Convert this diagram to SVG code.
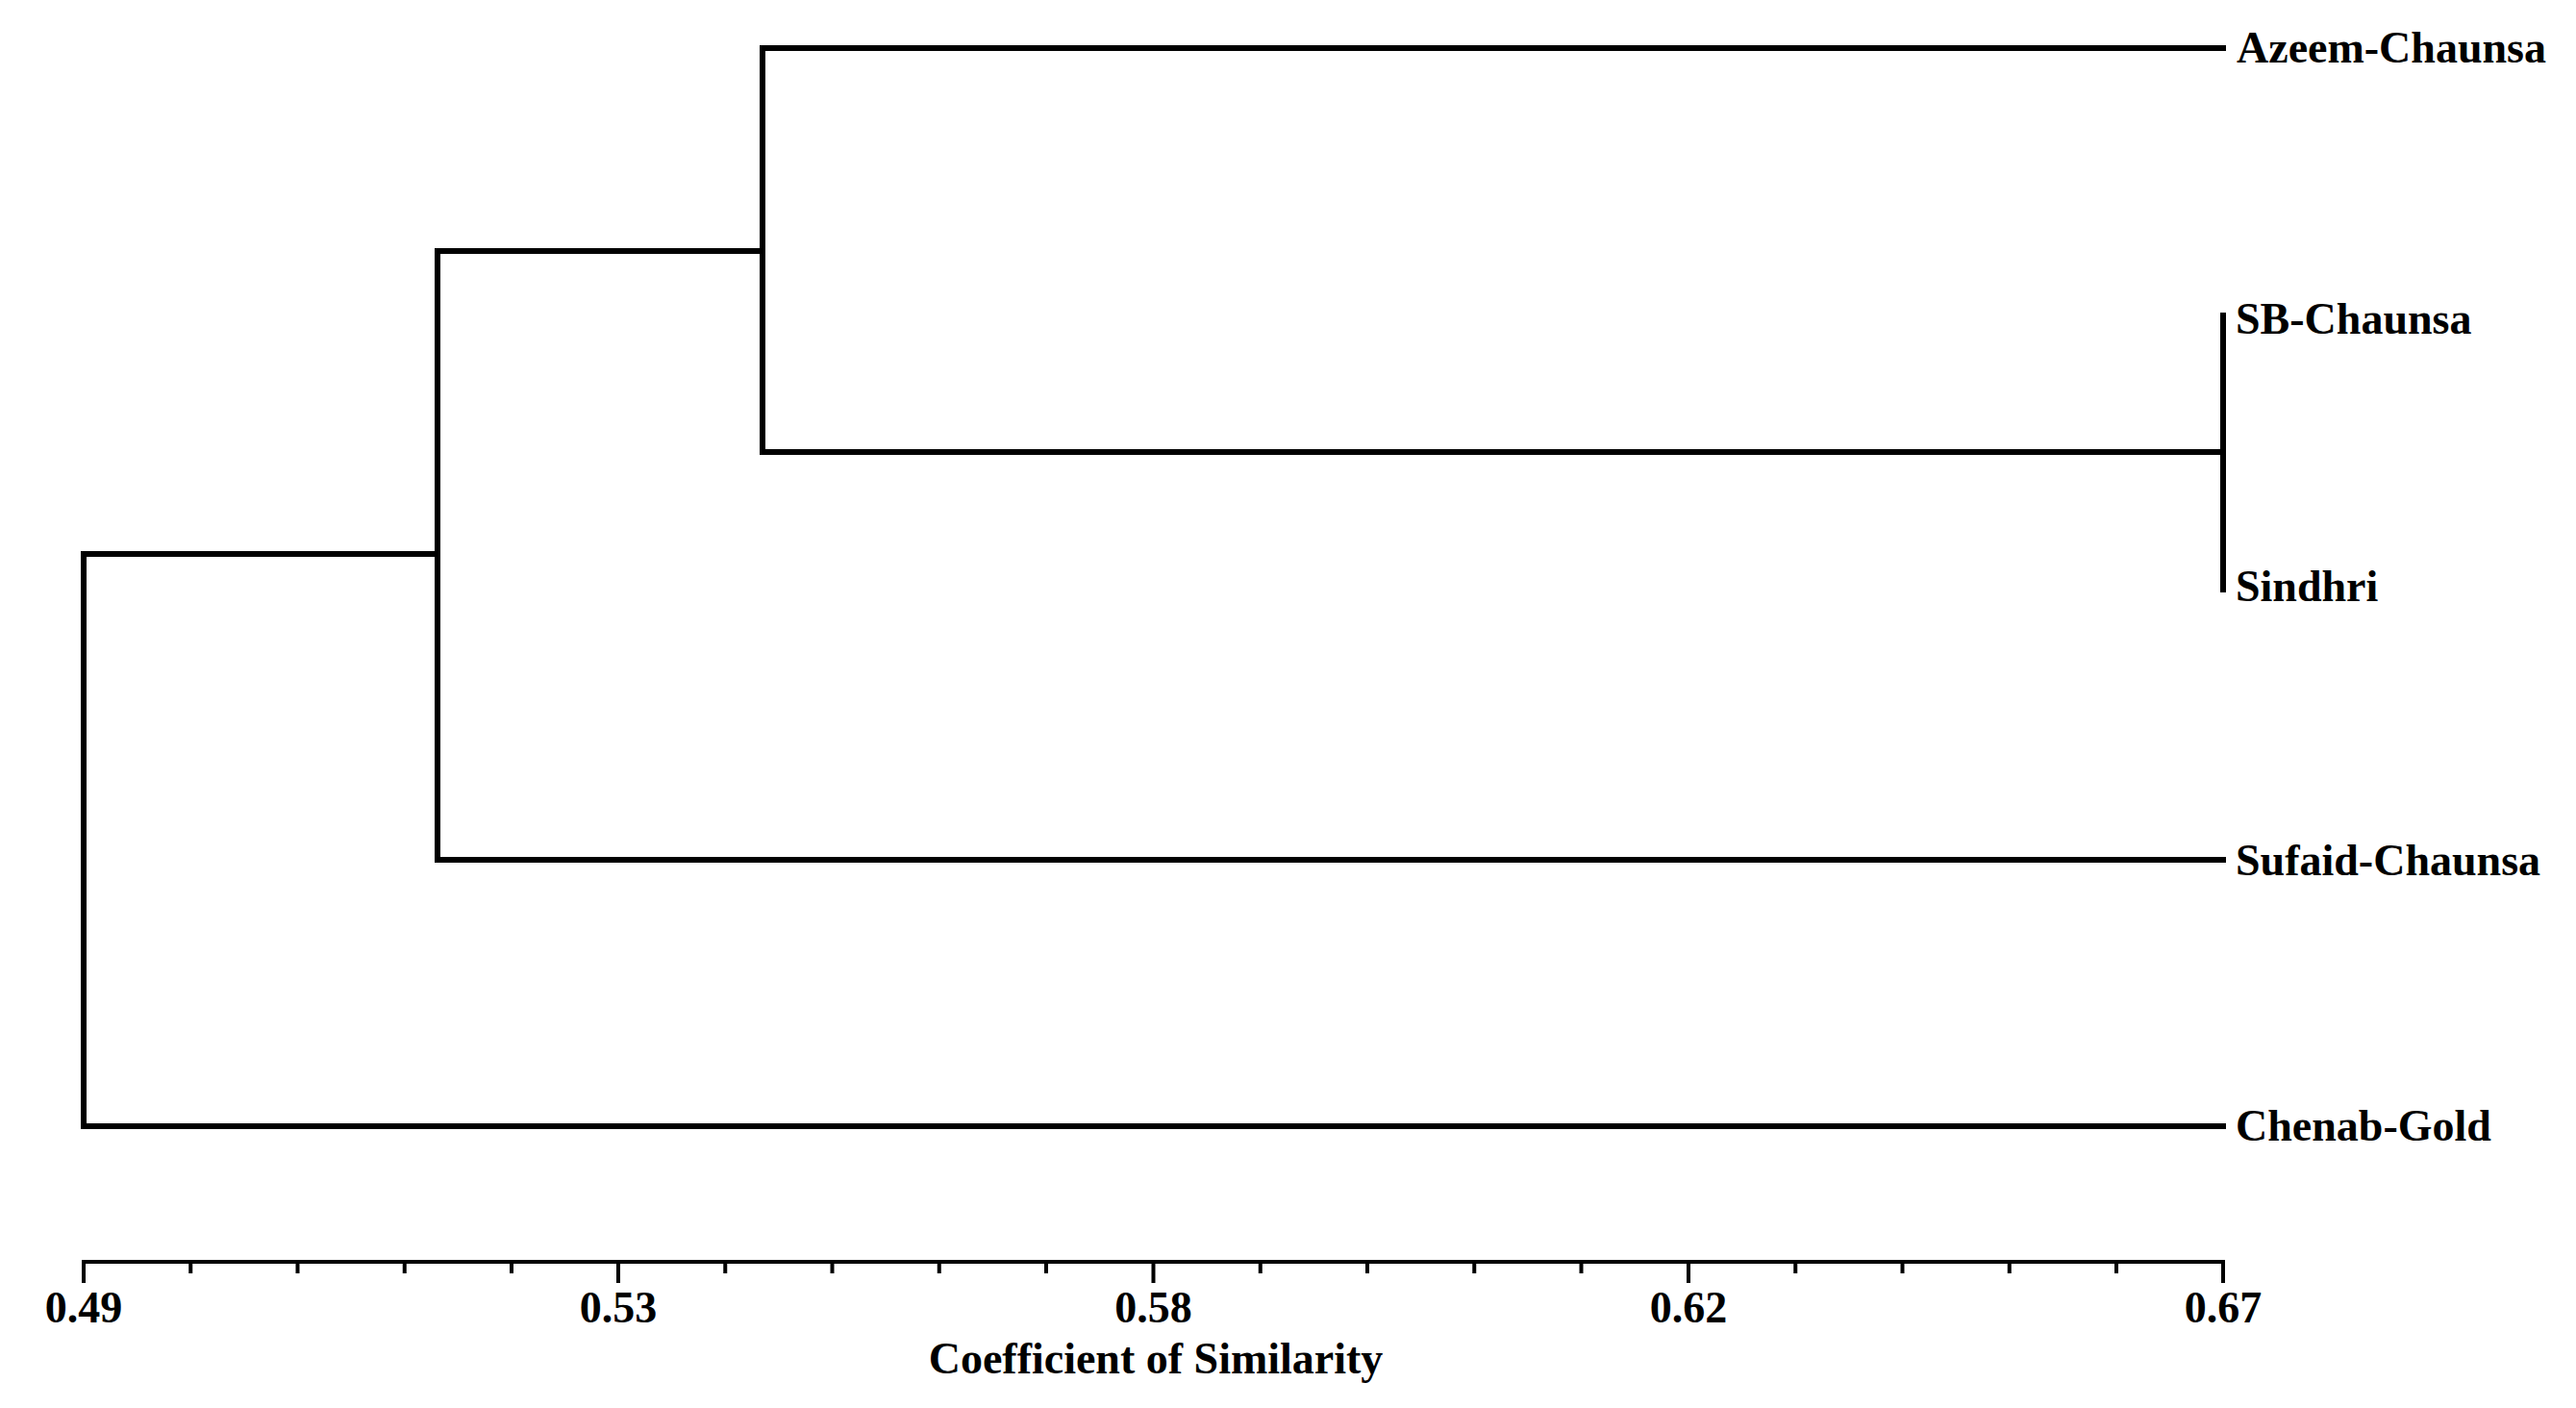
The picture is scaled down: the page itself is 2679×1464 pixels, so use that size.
<svg xmlns="http://www.w3.org/2000/svg" width="2679" height="1464" viewBox="0 0 2679 1464">
<style>
.lbl{font-family:"Liberation Serif","Times New Roman",serif;font-weight:bold;font-size:46px;fill:#000}
.tick{font-family:"Liberation Serif","Times New Roman",serif;font-weight:bold;font-size:46px;fill:#000;text-anchor:middle}
.br{fill:none;stroke:#000;stroke-width:6;stroke-linecap:square;stroke-linejoin:miter}
.ax{fill:none;stroke:#000;stroke-width:4;stroke-linecap:square}
</style>
<rect width="2679" height="1464" fill="#fff"/>
<g id="connectors">
<path class="br" d="M87,1171 L87,576 L455,576"/>
<path class="br" d="M87,1171 L2312,1171"/>
<path class="br" d="M455,894 L455,261 L793,261"/>
<path class="br" d="M455,894 L2312,894"/>
<path class="br" d="M2312,470 L793,470 L793,50 L2312,50"/>
<path class="br" d="M2312,328 L2312,613"/>
</g>
<g id="node-azeem-chaunsa"><text class="lbl" x="2326" y="65">Azeem-Chaunsa</text></g>
<g id="node-sb-chaunsa"><text class="lbl" x="2325" y="347">SB-Chaunsa</text></g>
<g id="node-sindhri"><text class="lbl" x="2325" y="625">Sindhri</text></g>
<g id="node-sufaid-chaunsa"><text class="lbl" x="2325" y="910">Sufaid-Chaunsa</text></g>
<g id="node-chenab-gold"><text class="lbl" x="2325" y="1186">Chenab-Gold</text></g>
<g id="axis">
<path class="ax" d="M87,1312 L2312,1312"/>
<path class="ax" d="M87,1312 V1332 M643,1312 V1332 M1199.5,1312 V1332 M1756,1312 V1332 M2312,1312 V1332"/>
<path class="ax" d="M198.25,1312 V1322 M309.5,1312 V1322 M420.75,1312 V1322 M532,1312 V1322 M754.25,1312 V1322 M865.5,1312 V1322 M976.75,1312 V1322 M1088,1312 V1322 M1310.75,1312 V1322 M1422,1312 V1322 M1533.25,1312 V1322 M1644.5,1312 V1322 M1867.25,1312 V1322 M1978.5,1312 V1322 M2089.75,1312 V1322 M2201,1312 V1322"/>
<text class="tick" x="87" y="1375">0.49</text>
<text class="tick" x="643" y="1375">0.53</text>
<text class="tick" x="1199.5" y="1375">0.58</text>
<text class="tick" x="1756" y="1375">0.62</text>
<text class="tick" x="2312" y="1375">0.67</text>
<text class="tick" x="1202" y="1428">Coefficient of Similarity</text>
</g>
</svg>
